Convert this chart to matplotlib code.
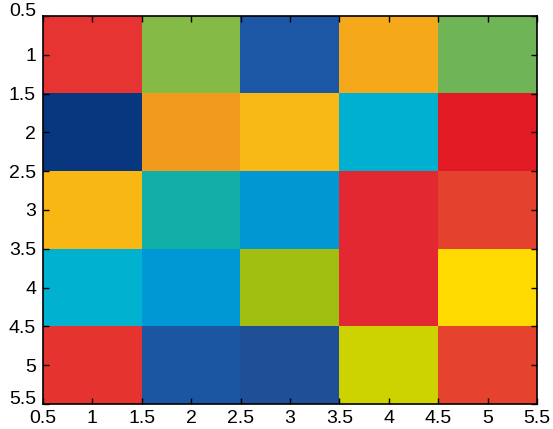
import numpy as np
import matplotlib
matplotlib.use('Agg')
import matplotlib.pyplot as plt
from matplotlib.colors import to_rgb

# cell colours, one list per row (top to bottom)
row1 = ['#E53431', '#86BA47', '#1B57A4', '#F4A81A', '#70B458']
row2 = ['#08367F', '#F29A1B', '#F8B915', '#00B0D0', '#E21A24']
row3 = ['#F8B712', '#12AFA8', '#0097D2', '#E42832', '#E5412F']
row4 = ['#00B2D0', '#0098D4', '#A0BF10', '#E42832', '#FFDA00']
row5 = ['#E5342F', '#1B56A2', '#1E4F97', '#CDD300', '#E5432E']

tick_vals = [0.5, 1, 1.5, 2, 2.5, 3, 3.5, 4, 4.5, 5, 5.5]
tick_labels = ['0.5', '1', '1.5', '2', '2.5', '3', '3.5', '4', '4.5', '5', '5.5']

img = np.array([[to_rgb(c) for c in r] for r in [row1, row2, row3, row4, row5]])

plt.rcParams['font.family'] = ['Liberation Sans', 'DejaVu Sans']

fig = plt.figure(figsize=(5.53, 4.29), dpi=100)
ax = fig.add_axes([0.0778, 0.0583, 0.8933, 0.9044])
ax.imshow(img, extent=(0.5, 5.5, 5.5, 0.5), aspect='auto', interpolation='nearest')
ax.set_xlim(0.5, 5.5)
ax.set_ylim(5.5, 0.5)
ax.set_xticks(tick_vals)
ax.set_xticklabels(tick_labels)
ax.set_yticks(tick_vals)
ax.set_yticklabels(tick_labels)
ax.tick_params(direction='in', top=True, right=True, labelsize=14, length=4, width=1)
ax.tick_params(axis='x', pad=4)
ax.tick_params(axis='y', pad=5)
# end labels on the y axis sit just above their ticks
ylabs = ax.get_yticklabels()
ylabs[0].set_va('baseline')
ylabs[-1].set_va('baseline')
for s in ax.spines.values():
    s.set_linewidth(1.2)

fig.savefig('out.png', dpi=100)
